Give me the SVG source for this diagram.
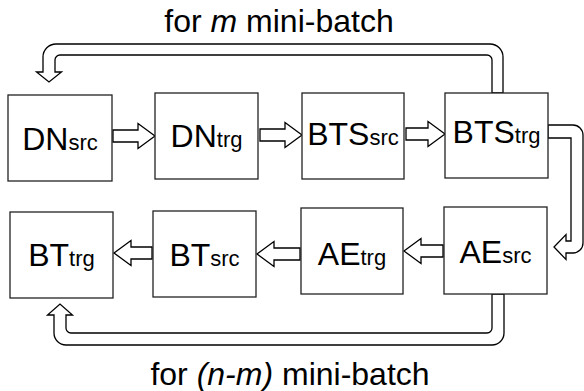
<svg xmlns="http://www.w3.org/2000/svg" width="584" height="391" viewBox="0 0 584 391">
<style>
.box{fill:#fff;stroke:#222;stroke-width:1.3}
.arr{fill:#fff;stroke:#000;stroke-width:1.3;stroke-linejoin:miter}
.t{font-family:"Liberation Sans",Arial,sans-serif;fill:#000}
.big{font-size:32px}
.sub{font-size:22px}
.cap{font-size:32px}
</style>
<rect width="584" height="391" fill="#fff"/>
<g id="connectors">
<path class="arr" d="M113,130 H138 V123.5 L155,136 L138,148.5 V142 H113 Z"/>
<path class="arr" d="M260,129 H285 V122.5 L302,135 L285,147.5 V141 H260 Z"/>
<path class="arr" d="M406,128 H428 V121.5 L445,134 L428,146.5 V140 H406 Z"/>
<path class="arr" d="M443,245 H421 V238.5 L404,251 L421,263.5 V257 H443 Z"/>
<path class="arr" d="M300,248 H274 V241.5 L257,254 L274,266.5 V260 H300 Z"/>
<path class="arr" d="M152,247 H131 V240.5 L114,253 L131,265.5 V259 H152 Z"/>
<path class="arr" d="M503,93 V57 A13,13 0 0 0 490,44 H56 A13,13 0 0 0 43,57 V72 H36.5 L49,82 L61.5,72 H55 V60 A5,5 0 0 1 60,55 H487 A5,5 0 0 1 492,60 V93 Z"/>
<path class="arr" d="M504,294 V333 A12,12 0 0 1 492,345 H66 A12,12 0 0 1 54,333 V315 H47.5 L60,304 L72.5,315 H66 V328 A5,5 0 0 0 71,333 H487 A5,5 0 0 0 492,328 V294 Z"/>
<path class="arr" d="M548,125 H573 A10,10 0 0 1 583,135 V243 A10,10 0 0 1 573,253 H566 V259.5 L554,247 L566,234.5 V241 H571 V138 H548 Z"/>
</g>
<g id="DNsrc"><rect class="box" x="8" y="95" width="104" height="86"/><text class="t big" x="60" y="150" text-anchor="middle">DN<tspan class="sub">src</tspan></text></g>
<g id="DNtrg"><rect class="box" x="155" y="93" width="103" height="86"/><text class="t big" x="206.5" y="147" text-anchor="middle">DN<tspan class="sub">trg</tspan></text></g>
<g id="BTSsrc"><rect class="box" x="302" y="93" width="102" height="86"/><text class="t big" x="353" y="145" text-anchor="middle">BTS<tspan class="sub">src</tspan></text></g>
<g id="BTStrg"><rect class="box" x="445" y="93" width="103" height="85"/><text class="t big" x="496.5" y="143" text-anchor="middle">BTS<tspan class="sub">trg</tspan></text></g>
<g id="BTtrg"><rect class="box" x="10" y="212" width="103" height="86"/><text class="t big" x="61.5" y="266" text-anchor="middle">BT<tspan class="sub">trg</tspan></text></g>
<g id="BTsrc"><rect class="box" x="153" y="211" width="103" height="86"/><text class="t big" x="204.5" y="266" text-anchor="middle">BT<tspan class="sub">src</tspan></text></g>
<g id="AEtrg"><rect class="box" x="301" y="208" width="102" height="86"/><text class="t big" x="352" y="265" text-anchor="middle">AE<tspan class="sub">trg</tspan></text></g>
<g id="AEsrc"><rect class="box" x="444" y="207" width="103" height="87"/><text class="t big" x="495.5" y="263" text-anchor="middle">AE<tspan class="sub">src</tspan></text></g>
<text class="t cap" x="279" y="32" text-anchor="middle">for <tspan font-style="italic">m</tspan> mini-batch</text>
<text class="t cap" x="290" y="385" text-anchor="middle">for <tspan font-style="italic">(n-m)</tspan> mini-batch</text>
</svg>
